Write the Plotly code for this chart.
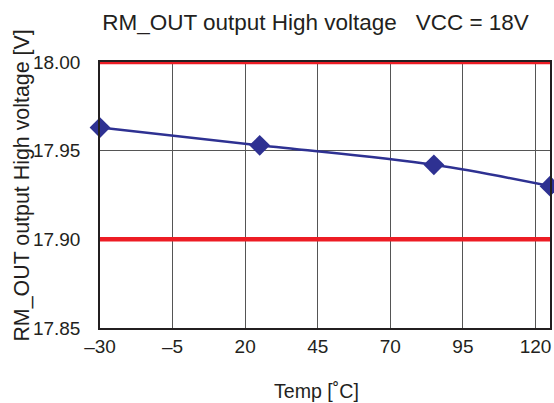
import plotly.graph_objects as go

# Measured output high voltage vs temperature
temp = [-30, 25, 85, 125]
voltage = [17.963, 17.953, 17.942, 17.930]

# Spec limits (red lines)
limits = [18.00, 17.90]

x_ticks = [-30, -5, 20, 45, 70, 95, 120]
x_labels = ["\u201330", "\u20135", "20", "45", "70", "95", "120"]
y_ticks = [17.85, 17.90, 17.95, 18.00]
y_labels = ["17.85", "17.90", "17.95", "18.00"]

fig = go.Figure()

for lim in limits:
    fig.add_hline(y=lim, line=dict(color="#ed1c24", width=4.5), layer="above")

fig.add_trace(go.Scatter(
    x=temp, y=voltage,
    mode="lines+markers",
    line=dict(color="#2e3192", width=2.5, shape="spline"),
    marker=dict(symbol="diamond", size=16, color="#2e3192"),
    cliponaxis=False,
    showlegend=False,
))

fig.update_layout(
    width=554, height=403,
    margin=dict(l=100, r=4, t=62, b=75),
    paper_bgcolor="white", plot_bgcolor="white",
    font=dict(family="Liberation Sans, Arial, sans-serif", size=19, color="#231f20"),
    title=dict(text="RM_OUT output High voltage   VCC = 18V",
               x=0.5695, xanchor="center", y=0.945, yanchor="middle",
               font=dict(size=22.5)),
)
fig.add_annotation(text="RM_OUT output High voltage [V]", textangle=-90,
                   xref="paper", yref="paper", x=-0.173, y=0.536,
                   xanchor="center", yanchor="middle",
                   showarrow=False, font=dict(size=21.4))
fig.add_annotation(text="Temp [\u02daC]",
                   xref="paper", yref="paper", x=0.482, y=-0.235,
                   xanchor="center", yanchor="middle",
                   showarrow=False, font=dict(size=19.6))

fig.update_xaxes(
    range=[-30, 125], tickvals=x_ticks, ticktext=x_labels,
    showgrid=True, gridcolor="#555555", gridwidth=1,
    showline=True, linecolor="#231f20", linewidth=1.5, mirror=True,
    ticks="", zeroline=False, automargin=False,
)
fig.update_yaxes(
    range=[17.85, 18.00], tickvals=y_ticks, ticktext=y_labels,
    showgrid=True, gridcolor="#555555", gridwidth=1,
    showline=True, linecolor="#231f20", linewidth=1.5, mirror=True,
    ticks="", zeroline=False, automargin=False, ticklabelstandoff=14,
)

# drop the default page margin so the figure fills the window exactly
fig.write_html("out.html",
               config={"displayModeBar": False},
               post_script="document.body.style.margin='0';document.body.style.overflow='hidden';")
